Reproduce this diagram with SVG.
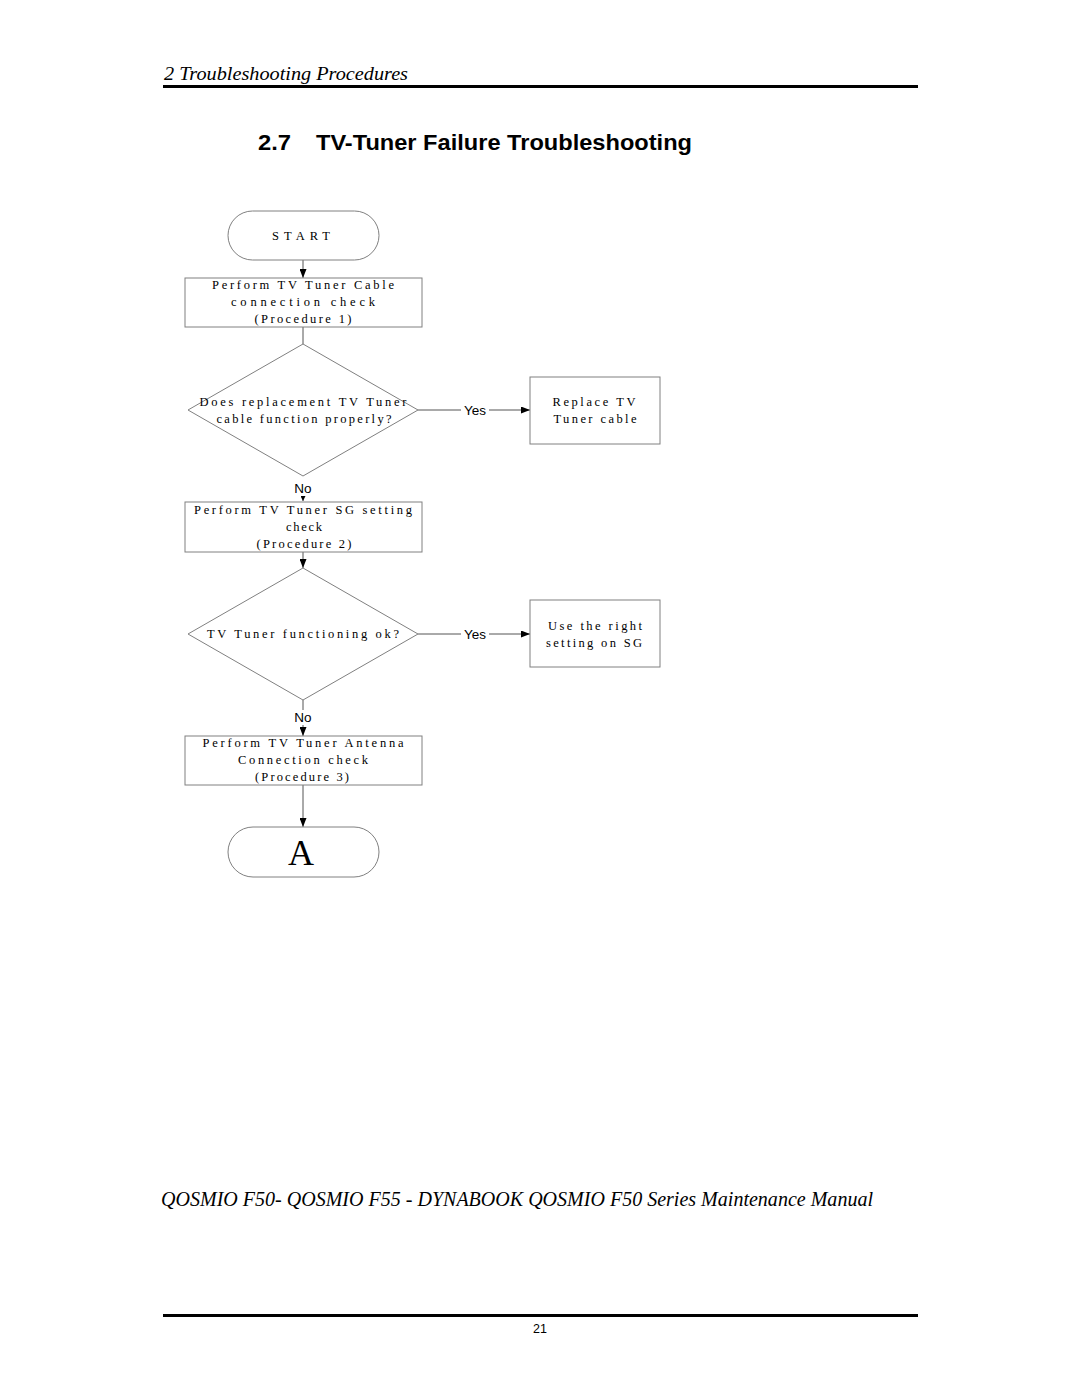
<svg xmlns="http://www.w3.org/2000/svg" width="1080" height="1397" viewBox="0 0 1080 1397">
<style>
.shape{fill:#fff;stroke:#808080;stroke-width:1}
.t{font-family:"Liberation Serif",serif;font-size:12.5px;fill:#000;text-anchor:middle}
.lab{font-family:"Liberation Sans",sans-serif;font-size:13.5px;fill:#000;text-anchor:middle}
.con{stroke:#555;stroke-width:1;fill:none}
</style>
<defs>
<marker id="ah" markerWidth="9" markerHeight="7" refX="9" refY="3.5" orient="auto" markerUnits="userSpaceOnUse">
<path d="M0,0 L9,3.5 L0,7 z" fill="#000"/>
</marker>
<marker id="ahs" markerWidth="5" markerHeight="5" refX="5" refY="2.5" orient="auto" markerUnits="userSpaceOnUse">
<path d="M0,0 L5,2.5 L0,5 z" fill="#000"/>
</marker>
</defs>
<rect width="1080" height="1397" fill="#fff"/>
<text x="164" y="80" font-family="Liberation Serif,serif" font-style="italic" font-size="19.5" textLength="244" lengthAdjust="spacingAndGlyphs">2 Troubleshooting Procedures</text>
<rect x="163" y="85" width="755" height="3" fill="#000"/>
<text x="258" y="150" font-family="Liberation Sans,sans-serif" font-weight="bold" font-size="22.5" textLength="33" lengthAdjust="spacingAndGlyphs">2.7</text>
<text x="316" y="150" font-family="Liberation Sans,sans-serif" font-weight="bold" font-size="22.5" textLength="376" lengthAdjust="spacingAndGlyphs">TV-Tuner Failure Troubleshooting</text>

<g id="connectors">
<line class="con" x1="303" y1="260" x2="303" y2="278" marker-end="url(#ah)"/>
<line class="con" x1="303" y1="327" x2="303" y2="344"/>
<line class="con" x1="418" y1="410" x2="461" y2="410"/>
<text class="lab" x="475" y="415">Yes</text>
<line class="con" x1="489" y1="410" x2="530" y2="410" marker-end="url(#ah)"/>
<text class="lab" x="303" y="493">No</text>
<line class="con" x1="303" y1="496" x2="303" y2="501" marker-end="url(#ahs)"/>
<line class="con" x1="303" y1="552" x2="303" y2="568" marker-end="url(#ah)"/>
<line class="con" x1="418" y1="634" x2="461" y2="634"/>
<text class="lab" x="475" y="639">Yes</text>
<line class="con" x1="489" y1="634" x2="530" y2="634" marker-end="url(#ah)"/>
<line class="con" x1="303" y1="700" x2="303" y2="710"/>
<text class="lab" x="303" y="722">No</text>
<line class="con" x1="303" y1="725" x2="303" y2="736" marker-end="url(#ah)"/>
<line class="con" x1="303" y1="785" x2="303" y2="827" marker-end="url(#ah)"/>
</g>

<g id="start">
<rect class="shape" x="228" y="211" width="151" height="49" rx="24.5"/>
<text class="t" x="301" y="240" textLength="58" lengthAdjust="spacing">START</text>
</g>
<g id="proc1">
<rect class="shape" x="185" y="278" width="237" height="49"/>
<text class="t" x="303" y="289" textLength="182" lengthAdjust="spacing">Perform TV Tuner Cable</text>
<text class="t" x="303" y="306" textLength="144" lengthAdjust="spacing">connection check</text>
<text class="t" x="303" y="323" textLength="97" lengthAdjust="spacing">(Procedure 1)</text>
</g>
<g id="dec1">
<polygon class="shape" points="303,344 418,410 303,476 188,410"/>
<text class="t" x="303" y="406" textLength="207" lengthAdjust="spacing">Does replacement TV Tuner</text>
<text class="t" x="304" y="423" textLength="175" lengthAdjust="spacing">cable function properly?</text>
</g>
<g id="replace">
<rect class="shape" x="530" y="377" width="130" height="67"/>
<text class="t" x="594" y="406" textLength="83" lengthAdjust="spacing">Replace TV</text>
<text class="t" x="595" y="423" textLength="83" lengthAdjust="spacing">Tuner cable</text>
</g>
<g id="proc2">
<rect class="shape" x="185" y="502" width="237" height="50"/>
<text class="t" x="303" y="514" textLength="218" lengthAdjust="spacing">Perform TV Tuner SG setting</text>
<text class="t" x="304" y="531" textLength="36" lengthAdjust="spacing">check</text>
<text class="t" x="304" y="548" textLength="95" lengthAdjust="spacing">(Procedure 2)</text>
</g>
<g id="dec2">
<polygon class="shape" points="303,568 418,634 303,700 188,634"/>
<text class="t" x="303" y="638" textLength="192" lengthAdjust="spacing">TV Tuner functioning ok?</text>
</g>
<g id="usesg">
<rect class="shape" x="530" y="600" width="130" height="67"/>
<text class="t" x="595" y="630" textLength="94" lengthAdjust="spacing">Use the right</text>
<text class="t" x="594" y="647" textLength="96" lengthAdjust="spacing">setting on SG</text>
</g>
<g id="proc3">
<rect class="shape" x="185" y="736" width="237" height="49"/>
<text class="t" x="303" y="747" textLength="201" lengthAdjust="spacing">Perform TV Tuner Antenna</text>
<text class="t" x="303" y="764" textLength="130" lengthAdjust="spacing">Connection check</text>
<text class="t" x="302" y="781" textLength="94" lengthAdjust="spacing">(Procedure 3)</text>
</g>
<g id="endA">
<rect class="shape" x="228" y="827" width="151" height="50" rx="25"/>
<text x="301" y="865" font-family="Liberation Serif,serif" font-size="36" text-anchor="middle">A</text>
</g>

<text x="161" y="1206" font-family="Liberation Serif,serif" font-style="italic" font-size="20" textLength="712" lengthAdjust="spacingAndGlyphs">QOSMIO F50- QOSMIO F55 - DYNABOOK QOSMIO F50 Series Maintenance Manual</text>
<rect x="163" y="1314" width="755" height="3" fill="#000"/>
<text x="540" y="1333" font-family="Liberation Sans,sans-serif" font-size="12.5" text-anchor="middle">21</text>
</svg>
